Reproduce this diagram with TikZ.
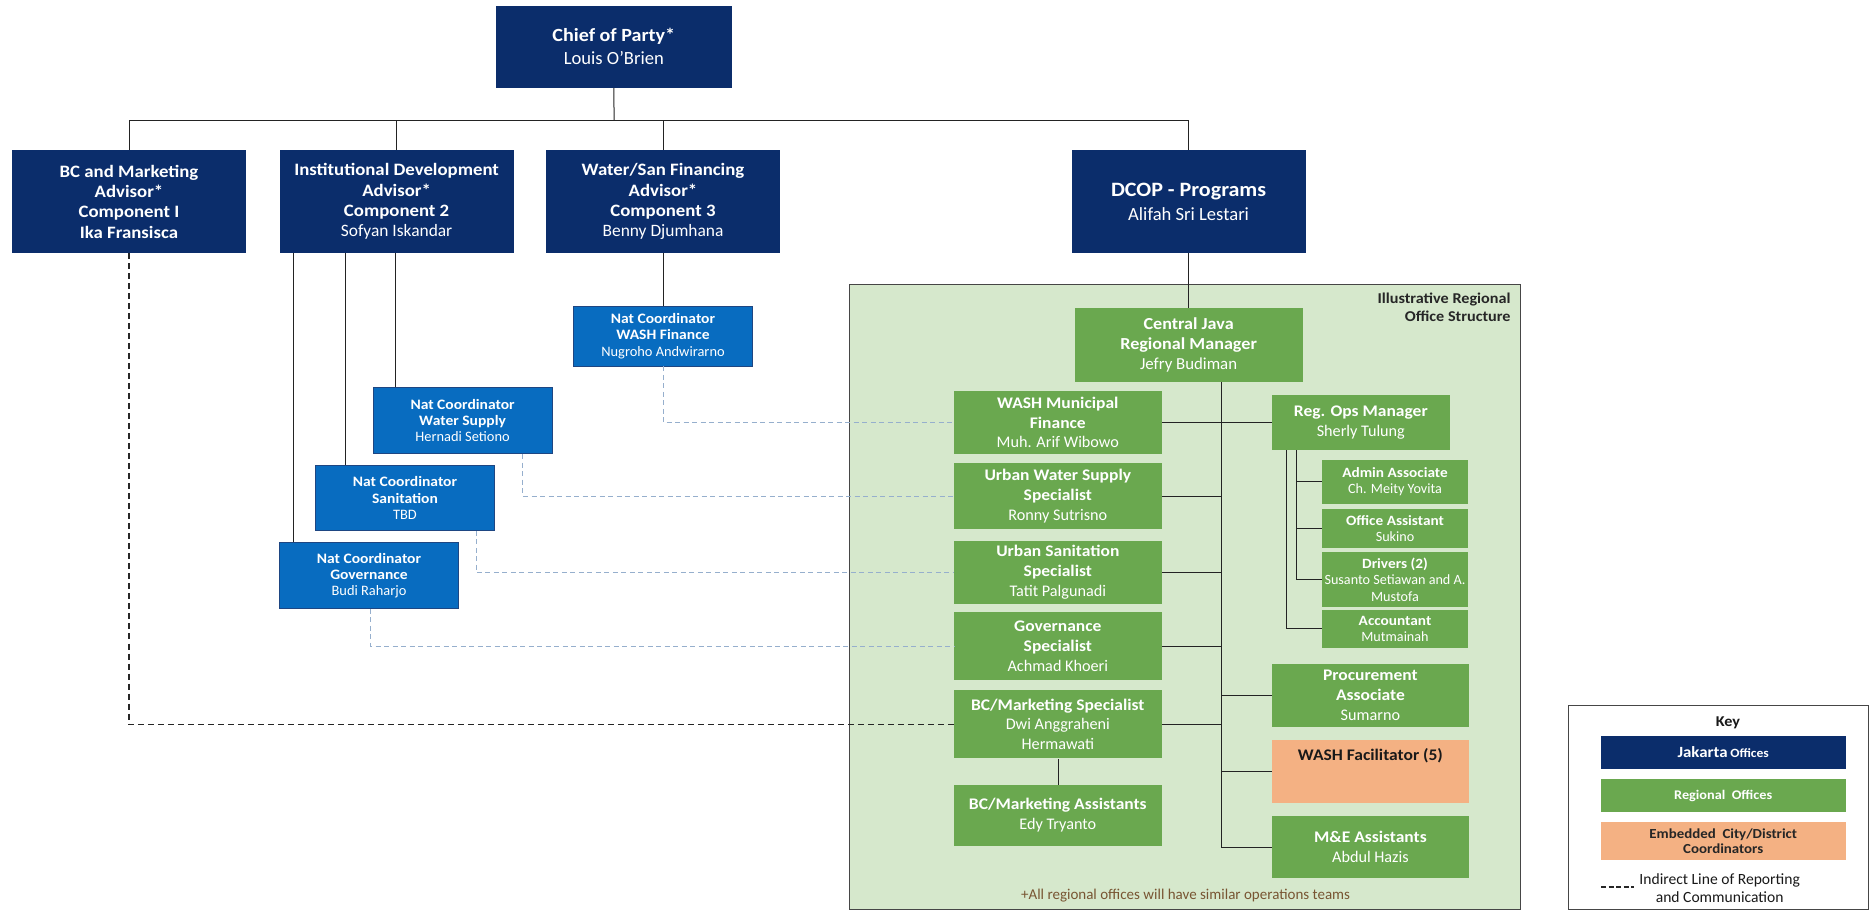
\documentclass[tikz,border=0pt]{standalone}
\usepackage{fontspec}
\setmainfont{Carlito}[BoldFeatures={FakeStretch=1.08}]
\usetikzlibrary{calc}
\definecolor{navy}{RGB}{11,45,107}
\definecolor{ncblue}{RGB}{8,108,192}
\definecolor{ncedge}{RGB}{30,70,130}
\definecolor{regreen}{RGB}{106,168,79}
\definecolor{bgreen}{RGB}{214,232,204}
\definecolor{orangec}{RGB}{244,177,131}
\definecolor{dashblue}{RGB}{150,175,205}
\definecolor{linec}{RGB}{35,35,35}
\definecolor{footc}{RGB}{120,85,50}
\definecolor{framec}{RGB}{70,70,70}
\begin{document}
\begin{tikzpicture}[scale=1.2, x=1pt, y=1pt,
  every node/.style={transform shape},
  sz/.style 2 args={minimum width=#1pt, minimum height=#2pt},
  box/.style={rectangle, inner sep=0pt, align=center, text=white},
  navybox/.style={box, fill=navy, font=\fontsize{14.5}{17}\selectfont},
  bluebox/.style={box, fill=ncblue, draw=ncedge, line width=0.6pt, font=\fontsize{12}{13.5}\selectfont, sz={149}{54}},
  greenbox/.style={box, fill=regreen, font=\fontsize{13.5}{16.5}\selectfont, sz={173}{54}},
  subbox/.style={box, fill=regreen, font=\fontsize{11.8}{13.5}\selectfont, sz={121}{36}},
  rbox/.style={box, fill=regreen, font=\fontsize{13.5}{16.5}\selectfont, sz={164}{52}},
  conn/.style={draw=linec, line width=1pt},
  dblue/.style={draw=dashblue, line width=1.1pt, dash pattern=on 5pt off 3.5pt},
  dblack/.style={draw=black!85, line width=1.4pt, dash pattern=on 6pt off 4pt}]
\useasboundingbox (0,0) rectangle (1563.33,-760);

% regional area background
\fill[bgreen] (708,-237) rectangle (1267,-758);
\draw[framec, line width=1.2pt] (708,-237) rectangle (1267,-758);

% top level
\node[navybox, sz={197}{68}, font=\fontsize{15.5}{19}\selectfont] (chief) at (511.5,-39) {\textbf{Chief of Party*}\\Louis O'Brien};
\node[navybox, sz={195}{86}, font=\bfseries\fontsize{14.5}{17}\selectfont] (bc) at (107.5,-168) {BC and Marketing\\Advisor*\\Component I\\Ika Fransisca};
\node[navybox, sz={195}{86}] (inst) at (330.5,-168) {\textbf{Institutional Development}\\\textbf{Advisor*}\\\textbf{Component 2}\\Sofyan Iskandar};
\node[navybox, sz={195}{86}] (water) at (552.5,-168) {\textbf{Water/San Financing}\\\textbf{Advisor*}\\\textbf{Component 3}\\Benny Djumhana};
\node[navybox, sz={195}{86}, font=\fontsize{15.5}{20}\selectfont] (dcop) at (990.5,-168) {{\fontsize{17}{20}\selectfont\textbf{DCOP - Programs}}\\Alifah Sri Lestari};

% national coordinators
\node[bluebox, sz={149}{50}] (ncwf) at (552.5,-280) {\textbf{Nat Coordinator}\\\textbf{WASH Finance}\\Nugroho Andwirarno};
\node[bluebox, sz={149}{55}] (ncws) at (385.5,-350.5) {\textbf{Nat Coordinator}\\\textbf{Water Supply}\\Hernadi Setiono};
\node[bluebox, sz={149}{54}] (ncsan) at (337.5,-415) {\textbf{Nat Coordinator}\\\textbf{Sanitation}\\TBD};
\node[bluebox, sz={149}{55}] (ncgov) at (307.5,-479.5) {\textbf{Nat Coordinator}\\\textbf{Governance}\\Budi Raharjo};

% regional office
\node[font=\bfseries\fontsize{12.5}{15}\selectfont, align=right, anchor=north east, text=black!85, inner sep=0pt] (title) at (1259,-244) {Illustrative Regional\\Office Structure};
\node[greenbox, sz={190}{61}, font=\fontsize{14}{17}\selectfont] (cj) at (990.5,-287.5) {\textbf{Central Java}\\\textbf{Regional Manager}\\Jefry Budiman};
\node[greenbox, sz={173}{52}] (wmf) at (881.5,-352) {\textbf{WASH Municipal}\\\textbf{Finance}\\Muh. Arif Wibowo};
\node[greenbox, sz={173}{55}] (uws) at (881.5,-413.5) {\textbf{Urban Water Supply}\\\textbf{Specialist}\\Ronny Sutrisno};
\node[greenbox, sz={173}{52}] (usan) at (881.5,-477) {\textbf{Urban Sanitation}\\\textbf{Specialist}\\Tatit Palgunadi};
\node[greenbox, sz={173}{57}] (gov) at (881.5,-538.5) {\textbf{Governance}\\\textbf{Specialist}\\Achmad Khoeri};
\node[greenbox, sz={173}{57}] (bcms) at (881.5,-603.5) {\textbf{BC/Marketing Specialist}\\Dwi Anggraheni\\Hermawati};
\node[greenbox, sz={173}{51}] (bcma) at (881.5,-679.5) {\textbf{BC/Marketing Assistants}\\Edy Tryanto};

\node[greenbox, sz={148}{46}] (regops) at (1134,-352) {\textbf{Reg. Ops Manager}\\Sherly Tulung};
\node[subbox, sz={121}{37}] (admin) at (1162.5,-401.5) {\textbf{Admin Associate}\\Ch. Meity Yovita};
\node[subbox, sz={121}{33}] (office) at (1162.5,-440.5) {\textbf{Office Assistant}\\Sukino};
\node[subbox, sz={121}{46}] (drivers) at (1162.5,-483) {\textbf{Drivers (2)}\\Susanto Setiawan and A.\\Mustofa};
\node[subbox, sz={121}{32}] (acct) at (1162.5,-524) {\textbf{Accountant}\\Mutmainah};
\node[rbox] (proc) at (1142,-579.5) {\textbf{Procurement}\\\textbf{Associate}\\Sumarno};
\node[rbox, fill=orangec, text=black!90, text depth=28pt] (washf) at (1142,-643) {\textbf{WASH Facilitator (5)}};
\node[rbox] (me) at (1142,-706) {\textbf{M\&E Assistants}\\Abdul Hazis};
\node[font=\fontsize{12.5}{14}\selectfont, text=footc, inner sep=0pt] (foot) at (988,-746) {+All regional offices will have similar operations teams};

% connectors: top
\coordinate (bus) at ($(chief.south)+(0,-27)$);
\draw[conn] (chief.south) -- (bus);
\draw[conn] (bc.north) |- (bus -| dcop.north) -- (dcop.north);
\draw[conn] (inst.north) -- (inst.north |- bus);
\draw[conn] (water.north) -- (water.north |- bus);
\draw[conn] (water.south) -- (ncwf.north);
\draw[conn] (dcop.south) -- (cj.north);
\coordinate (g1) at ($(ncgov.north west)+(12,0)$);
\coordinate (g2) at ($(ncsan.north west)+(25,0)$);
\coordinate (g3) at ($(ncws.north west)+(19,0)$);
\draw[conn] (g1 |- inst.south) -- (g1);
\draw[conn] (g2 |- inst.south) -- (g2);
\draw[conn] (g3 |- inst.south) -- (g3);

% regional connectors
\coordinate (tr) at ($(cj.south)+(27,0)$);
\draw[conn] (tr) -- (tr |- me.west);
\draw[conn] (wmf.east) -- (regops.west);
\foreach \n in {uws,usan,gov,bcms} \draw[conn] (\n.east) -- (\n.east -| tr);
\foreach \n in {proc,washf,me} \draw[conn] (\n.west -| tr) -- (\n.west);
\draw[conn] (bcms.south) -- (bcma.north);
\coordinate (ra) at ($(regops.south west)+(20,0)$);
\coordinate (rb) at ($(regops.south west)+(12,0)$);
\draw[conn] (ra) |- (admin.west);
\draw[conn] (ra) |- (office.west);
\draw[conn] (ra) |- (drivers.west);
\draw[conn] (rb) |- (acct.west);

% dashed indirect lines
\draw[dblue] (ncwf.south) |- (wmf.west);
\draw[dblue] ($(ncws.south west)+(125,0)$) |- (uws.west);
\draw[dblue] ($(ncsan.south west)+(134,0)$) |- (usan.west);
\draw[dblue] ($(ncgov.south west)+(76,0)$) |- (gov.west);
\draw[dblack] (bc.south) |- (bcms.west);

% key
\node[draw=framec, line width=1.2pt, sz={250}{170}, inner sep=0pt] (key) at (1432,-673) {};
\node[font=\bfseries\fontsize{12.5}{14}\selectfont, text=black!90, inner sep=0pt] (keyt) at (1440,-602) {Key};
\node[box, fill=navy, sz={204}{28}] (kj) at (1436,-627) {{\fontsize{13}{15}\selectfont\bfseries Jakarta} {\fontsize{10.5}{13}\selectfont\bfseries Offices}};
\node[box, fill=regreen, sz={204}{28}, font=\bfseries\fontsize{11}{13}\selectfont] (kr) at (1436,-663) {Regional\ \ Offices};
\node[box, fill=orangec, text=black!85, sz={204}{32}, font=\bfseries\fontsize{11.5}{13}\selectfont] (ke) at (1436,-701) {Embedded\ \ City/District\\Coordinators};
\coordinate (l1) at (1334,-739);
\coordinate (l2) at (1361,-739);
\draw[dblack, dash pattern=on 5pt off 2.5pt] (l1) -- (l2);
\node[anchor=west, align=center, font=\fontsize{13}{15}\selectfont, text=black!90, inner sep=0pt] (kl) at (1366,-740) {Indirect Line of Reporting\\and Communication};
\end{tikzpicture}
\end{document}
